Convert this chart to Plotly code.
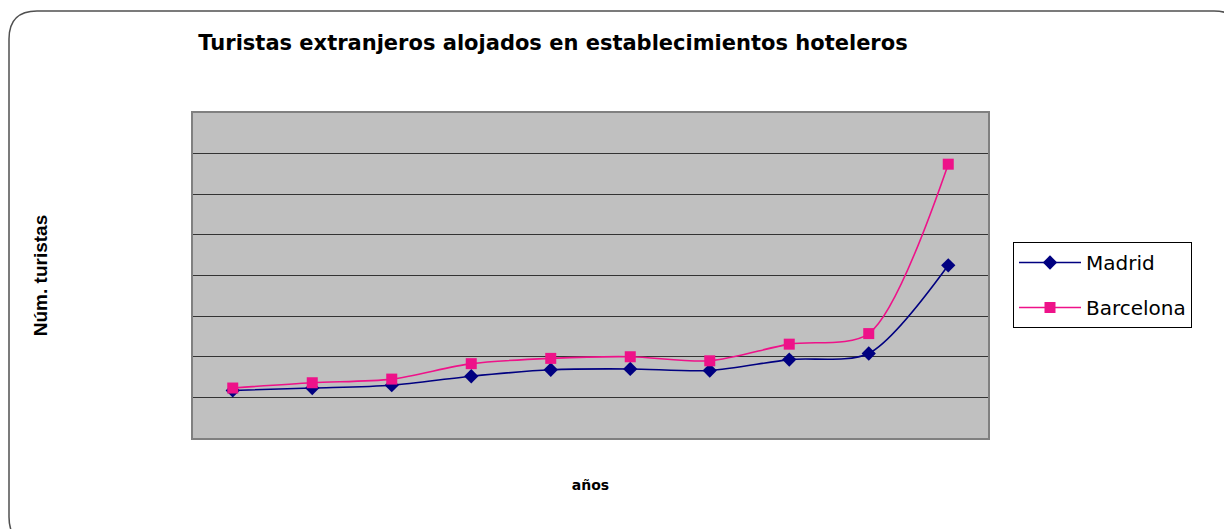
import plotly.graph_objects as go

# Data (axis has no labels, units = gridline steps)
years = ["1997", "1998", "1999", "2000", "2001", "2002", "2003", "2004", "2005", "2006"]
madrid = [1.17, 1.23, 1.30, 1.52, 1.68, 1.70, 1.66, 1.93, 2.08, 4.25]
barcelona = [1.23, 1.36, 1.45, 1.83, 1.96, 2.00, 1.90, 2.31, 2.57, 6.74]

W, H = 1232, 529
OFF = 8  # page body margin
# target pixel positions in the screenshot
PL, PR, PT, PB = 193, 988, 113, 438
L, T = PL - OFF, PT - OFF
R = W - (PR - OFF)
B = H - (PB - OFF)
PW, PH = W - L - R, H - T - B


def X(p):
    return (p - OFF - L) / PW


def Y(p):
    return (H - B - (p - OFF)) / PH


fig = go.Figure()
fig.add_trace(go.Scatter(
    x=years, y=madrid, name="Madrid", mode="lines+markers",
    line=dict(color="#000080", width=1.6, shape="spline", smoothing=0.8),
    marker=dict(symbol="diamond", size=11, color="#000080"),
    legendgroup="m",
))
fig.add_trace(go.Scatter(
    x=years, y=barcelona, name="Barcelona", mode="lines+markers",
    line=dict(color="#EE1289", width=1.6, shape="spline", smoothing=0.8),
    marker=dict(symbol="square", size=11, color="#EE1289"),
    legendgroup="b",
))

# rounded outer border
x0, y0, x1, y1, r = 9, 11, 1242, 545, 28
path = (
    f"M {X(x0+r)},{Y(y0)} L {X(x1-r)},{Y(y0)} Q {X(x1)},{Y(y0)} {X(x1)},{Y(y0+r)} "
    f"L {X(x1)},{Y(y1-r)} Q {X(x1)},{Y(y1)} {X(x1-r)},{Y(y1)} "
    f"L {X(x0+r)},{Y(y1)} Q {X(x0)},{Y(y1)} {X(x0)},{Y(y1-r)} "
    f"L {X(x0)},{Y(y0+r)} Q {X(x0)},{Y(y0)} {X(x0+r)},{Y(y0)} Z"
)
fig.add_shape(type="path", path=path, xref="paper", yref="paper",
              line=dict(color="#505050", width=1.5), layer="below")

fig.update_layout(
    width=W, height=H, autosize=False,
    margin=dict(l=L, r=R, t=T, b=B),
    paper_bgcolor="white", plot_bgcolor="#C0C0C0",
    title=dict(text="<b>Turistas extranjeros alojados en establecimientos hoteleros</b>",
               x=(553 - OFF) / W, xanchor="center", y=1 - (43 - OFF) / H, yanchor="middle",
               font=dict(family="DejaVu Sans", size=21, color="black")),
    showlegend=True,
    legend=dict(x=X(1013), xanchor="left", y=Y(242), yanchor="top",
                bordercolor="black", borderwidth=1, bgcolor="white",
                font=dict(family="DejaVu Sans", size=20, color="black"),
                traceorder="grouped", tracegroupgap=16, itemwidth=62),
    xaxis=dict(type="category", range=[-0.5, 9.5], showticklabels=False,
               showgrid=False, zeroline=False, ticks="",
               showline=True, mirror=True, linecolor="#808080", linewidth=2,
               title=dict(text="<b>años</b>", standoff=41,
                          font=dict(family="DejaVu Sans", size=14, color="black"))),
    yaxis=dict(range=[0, 8], dtick=1, showticklabels=False, ticks="",
               showgrid=True, gridcolor="#333333", gridwidth=1, zeroline=False,
               showline=True, mirror=True, linecolor="#808080", linewidth=2,
               title=dict(text="<b>Núm. turistas</b>", standoff=138,
                          font=dict(family="Liberation Sans", size=19, color="black"))),
)

fig.write_html("out.html")
